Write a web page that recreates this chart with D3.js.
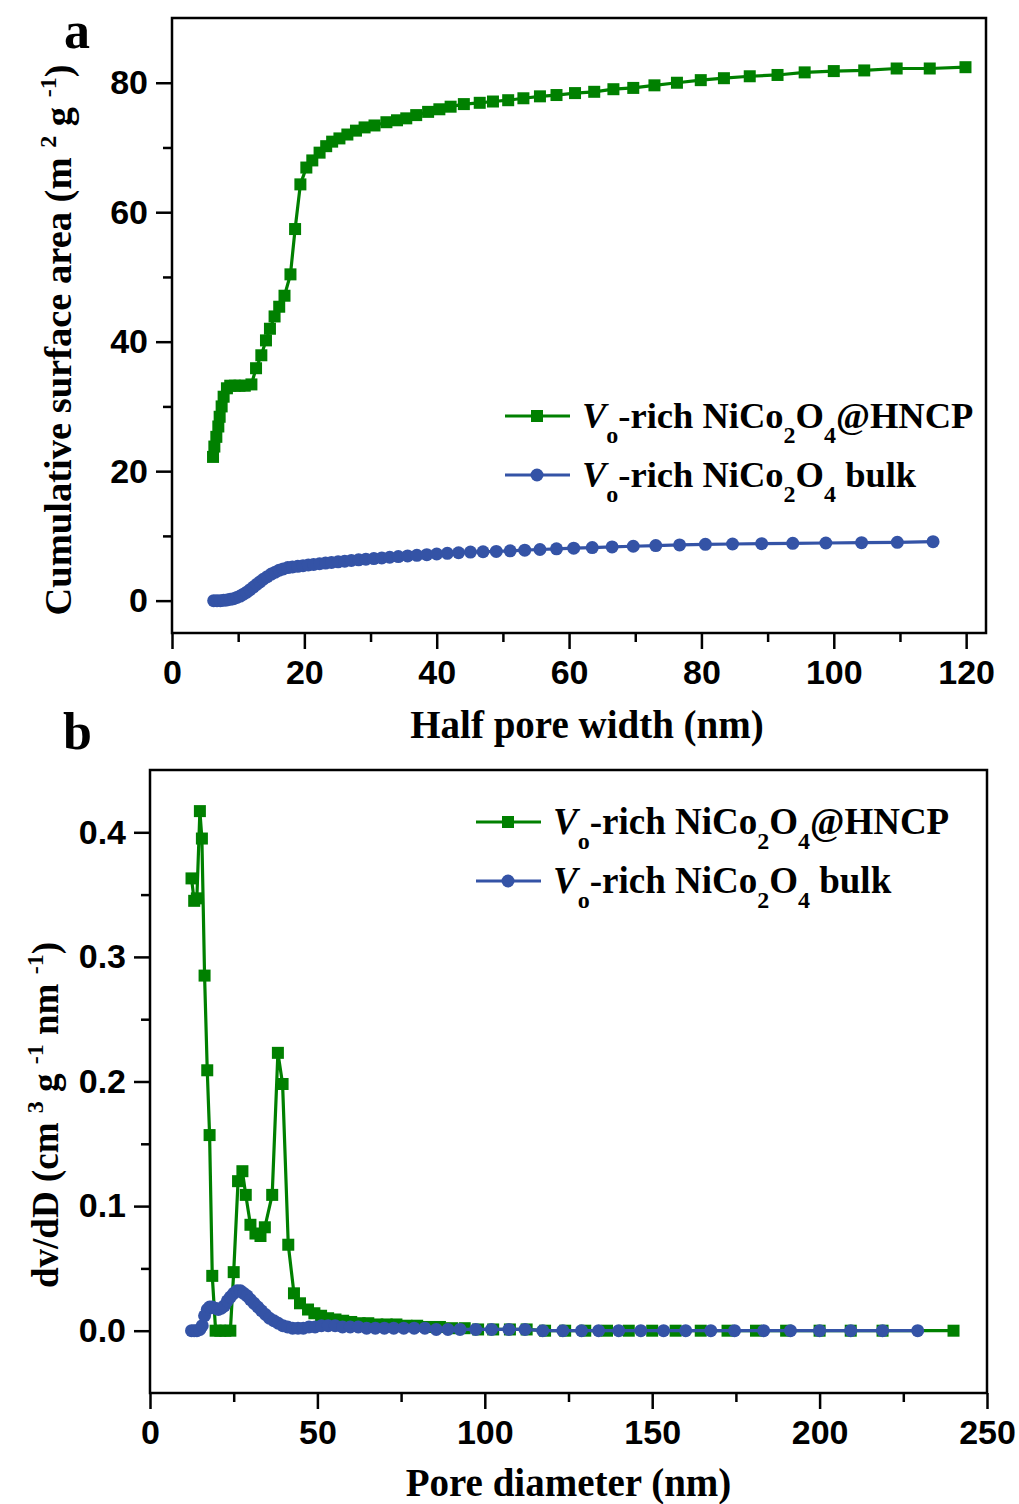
<!DOCTYPE html>
<html>
<head>
<meta charset="utf-8">
<script src="https://cdn.jsdelivr.net/npm/d3@7"></script>
<style>
  body { margin: 0; background: #fff; }
  svg { display: block; }
</style>
</head>
<body>
<svg id="chart" width="1019" height="1504"></svg>
<script>
// ---- data (a): cumulative surface area vs half pore width
const aHncpX = [6.2, 6.4, 6.7, 7.0, 7.2, 7.5, 7.8, 8.3, 8.8, 9.5, 10.2, 11.0, 12.0, 12.7, 13.5, 14.2, 14.8, 15.5, 16.2, 17.0, 17.9, 18.6, 19.4, 20.3, 21.2, 22.3, 23.3, 24.2, 25.3, 26.5, 27.8, 29.1, 30.6, 32.4, 34.0, 35.4, 36.9, 38.7, 40.4, 42.1, 44.1, 46.5, 48.5, 50.8, 53.1, 55.6, 58.1, 60.9, 63.8, 66.7, 69.7, 72.9, 76.3, 79.9, 83.4, 87.3, 91.5, 95.6, 100.0, 104.6, 109.5, 114.5, 119.9];
const aHncpY = [22.2, 23.8, 25.3, 26.9, 28.4, 30.0, 31.5, 32.8, 33.2, 33.2, 33.2, 33.2, 33.4, 35.9, 37.9, 40.2, 42.0, 43.9, 45.4, 47.1, 50.4, 57.4, 64.3, 66.9, 68.0, 69.2, 70.2, 70.9, 71.4, 72.0, 72.6, 73.1, 73.4, 73.9, 74.2, 74.5, 75.0, 75.5, 75.9, 76.3, 76.7, 76.9, 77.1, 77.3, 77.6, 77.9, 78.1, 78.4, 78.6, 79.0, 79.2, 79.6, 80.0, 80.4, 80.7, 81.0, 81.2, 81.6, 81.8, 81.9, 82.2, 82.2, 82.4];
const aBulkX = [6.3, 6.8, 7.3, 7.8, 8.3, 8.8, 9.3, 9.8, 10.3, 10.8, 11.3, 11.8, 12.3, 12.8, 13.3, 13.8, 14.4, 15.0, 15.6, 16.2, 16.8, 17.5, 18.2, 19.0, 19.8, 20.6, 21.4, 22.3, 23.2, 24.1, 25.1, 26.1, 27.1, 28.2, 29.3, 30.5, 31.7, 32.9, 34.2, 35.6, 37.0, 38.5, 40.0, 41.6, 43.3, 45.1, 47.0, 49.0, 51.1, 53.3, 55.6, 58.1, 60.7, 63.5, 66.5, 69.7, 73.1, 76.7, 80.6, 84.7, 89.1, 93.8, 98.8, 104.2, 109.6, 115.0];
const aBulkY = [0.0, 0.0, 0.0, 0.05, 0.1, 0.2, 0.3, 0.5, 0.7, 1.0, 1.3, 1.7, 2.1, 2.5, 2.9, 3.3, 3.7, 4.1, 4.4, 4.7, 4.9, 5.1, 5.2, 5.3, 5.4, 5.5, 5.6, 5.7, 5.8, 5.9, 6.0, 6.1, 6.2, 6.3, 6.4, 6.5, 6.6, 6.7, 6.8, 6.9, 7.0, 7.1, 7.2, 7.3, 7.4, 7.5, 7.55, 7.6, 7.7, 7.8, 7.9, 8.0, 8.1, 8.2, 8.3, 8.4, 8.5, 8.6, 8.7, 8.75, 8.8, 8.85, 8.9, 8.95, 9.0, 9.1];

// ---- data (b): pore size distribution
const bHncpX = [12.4, 13.2, 14.0, 14.9, 15.5, 16.3, 17.1, 17.8, 18.6, 19.6, 21.0, 22.5, 24.0, 25.0, 26.3, 27.6, 28.6, 30.0, 31.5, 33.0, 34.3, 36.5, 38.2, 39.6, 41.3, 43.0, 44.8, 47.2, 49.1, 51.1, 53.2, 55.4, 57.7, 60.1, 62.6, 65.2, 67.9, 70.7, 73.6, 76.6, 79.8, 83.1, 86.6, 90.2, 94.0, 98.0, 102.5, 107.5, 112.5, 118.0, 124.0, 130.0, 136.5, 143.0, 150.0, 157.0, 164.5, 172.5, 181.0, 190.0, 200.0, 209.3, 218.8, 240.0];
const bHncpY = [0.363, 0.345, 0.347, 0.417, 0.395, 0.285, 0.209, 0.157, 0.044, 0.0, 0.0, 0.0, 0.0, 0.047, 0.120, 0.128, 0.109, 0.085, 0.078, 0.076, 0.083, 0.109, 0.223, 0.198, 0.069, 0.030, 0.022, 0.017, 0.014, 0.012, 0.010, 0.009, 0.008, 0.007, 0.006, 0.006, 0.005, 0.005, 0.005, 0.004, 0.004, 0.003, 0.003, 0.002, 0.002, 0.001, 0.001, 0.001, 0.001, 0.0, 0.0, 0.0, 0.0, 0.0, 0.0, 0.0, 0.0, 0.0, 0.0, 0.0, 0.0, 0.0, 0.0, 0.0];
const bBulkX = [12.4, 13.2, 14.0, 14.9, 15.6, 16.3, 17.1, 17.8, 18.6, 19.5, 20.4, 21.3, 22.2, 23.1, 24.0, 25.0, 26.0, 27.0, 28.0, 29.0, 30.0, 31.1, 32.2, 33.3, 34.5, 35.7, 37.0, 38.3, 39.7, 41.1, 42.6, 44.2, 45.8, 47.5, 49.3, 51.2, 53.2, 55.3, 57.5, 59.8, 62.2, 64.7, 67.3, 70.0, 72.8, 75.8, 78.9, 82.1, 85.5, 89.0, 92.6, 97.3, 102.0, 107.2, 112.0, 117.3, 123.3, 128.9, 134.0, 140.0, 146.6, 153.4, 160.0, 167.5, 174.6, 183.3, 191.3, 200.0, 209.3, 218.8, 229.3];
const bBulkY = [0.0, 0.0, 0.0, 0.001, 0.004, 0.012, 0.017, 0.019, 0.019, 0.018, 0.017, 0.018, 0.020, 0.024, 0.027, 0.030, 0.032, 0.032, 0.030, 0.028, 0.025, 0.022, 0.019, 0.016, 0.013, 0.010, 0.008, 0.006, 0.004, 0.003, 0.002, 0.002, 0.002, 0.003, 0.003, 0.004, 0.004, 0.004, 0.003, 0.003, 0.003, 0.002, 0.002, 0.002, 0.002, 0.002, 0.002, 0.002, 0.001, 0.001, 0.001, 0.001, 0.001, 0.001, 0.001, 0.0, 0.0, 0.0, 0.0, 0.0, 0.0, 0.0, 0.0, 0.0, 0.0, 0.0, 0.0, 0.0, 0.0, 0.0, 0.0];

const aXTicks = [0, 20, 40, 60, 80, 100, 120];
const aYTicks = [0, 20, 40, 60, 80];
const bXTicks = [0, 50, 100, 150, 200, 250];
const bYTicks = [0.0, 0.1, 0.2, 0.3, 0.4];

const green = "#008000";
const blue = "#3453a6";
const serif = "'Liberation Serif', 'Times New Roman', serif";
const svg = d3.select("#chart");

function drawPanel(p) {
  const x = d3.scaleLinear().domain(p.xDom).range([p.left, p.right]);
  const y = d3.scaleLinear().domain(p.yDom).range([p.bottom, p.top]);

  const g = svg.append("g");

  // minor ticks
  g.append("g")
    .attr("transform", "translate(0," + p.bottom + ")")
    .call(d3.axisBottom(x).tickValues(p.xMinor).tickSize(9).tickFormat(""));
  g.append("g")
    .attr("transform", "translate(" + p.left + ",0)")
    .call(d3.axisLeft(y).tickValues(p.yMinor).tickSize(9).tickFormat(""));

  // major ticks
  g.append("g")
    .attr("transform", "translate(0," + p.bottom + ")")
    .call(d3.axisBottom(x).tickValues(p.xTicks).tickSize(16).tickPadding(11).tickFormat(p.xFmt));
  g.append("g")
    .attr("transform", "translate(" + p.left + ",0)")
    .call(d3.axisLeft(y).tickValues(p.yTicks).tickSize(16).tickPadding(8).tickFormat(p.yFmt));

  g.selectAll(".domain").remove();
  g.selectAll(".tick line").attr("stroke", "#000").attr("stroke-width", 2.5);
  g.selectAll(".tick text")
    .attr("fill", "#000")
    .style("font-family", "'Liberation Sans', Arial, sans-serif")
    .style("font-weight", "bold")
    .style("font-size", "34px");

  // frame
  g.append("rect")
    .attr("x", p.left).attr("y", p.top)
    .attr("width", p.right - p.left).attr("height", p.bottom - p.top)
    .attr("fill", "none").attr("stroke", "#000").attr("stroke-width", 2.5);

  const line = d3.line().x(d => x(d[0])).y(d => y(d[1]));

  p.series.forEach(s => {
    const pts = s.xs.map((v, i) => [v, s.ys[i]]);
    g.append("path").datum(pts)
      .attr("fill", "none").attr("stroke", s.color).attr("stroke-width", 3.2)
      .attr("d", line);
    if (s.shape === "square") {
      g.selectAll(null).data(pts).enter().append("rect")
        .attr("x", d => x(d[0]) - 6).attr("y", d => y(d[1]) - 6)
        .attr("width", 12).attr("height", 12)
        .attr("fill", s.color);
    } else {
      g.selectAll(null).data(pts).enter().append("circle")
        .attr("cx", d => x(d[0])).attr("cy", d => y(d[1]))
        .attr("r", 6.5).attr("fill", s.color);
    }
  });

  // legend
  p.series.forEach((s, i) => {
    const ly = p.legY + i * 59;
    g.append("line")
      .attr("x1", p.legX).attr("x2", p.legX + 65)
      .attr("y1", ly).attr("y2", ly)
      .attr("stroke", s.color).attr("stroke-width", 3.2);
    if (s.shape === "square") {
      g.append("rect").attr("x", p.legX + 32 - 6).attr("y", ly - 6)
        .attr("width", 12).attr("height", 12).attr("fill", s.color);
    } else {
      g.append("circle").attr("cx", p.legX + 32).attr("cy", ly).attr("r", 6.5).attr("fill", s.color);
    }
    const t = g.append("text")
      .attr("x", p.legX + 77).attr("y", ly + 12)
      .style("font-family", serif)
      .style("font-weight", "bold")
      .style("font-size", p.legSize + "px");
    t.append("tspan").style("font-style", "italic").text("V");
    t.append("tspan").attr("dy", 15).style("font-size", "24px").text("o");
    t.append("tspan").attr("dy", -15).text("-rich NiCo");
    t.append("tspan").attr("dy", 15).style("font-size", "24px").text("2");
    t.append("tspan").attr("dy", -15).text("O");
    t.append("tspan").attr("dy", 15).style("font-size", "24px").text("4");
    t.append("tspan").attr("dy", -15).text(s.tail);
  });

  // axis titles
  g.append("text")
    .attr("x", (p.left + p.right) / 2 + p.xTitleShift).attr("y", p.xTitleY)
    .attr("text-anchor", "middle")
    .style("font-family", serif)
    .style("font-weight", "bold")
    .style("font-size", "39px")
    .text(p.xTitle);

  const yt = g.append("text")
    .attr("transform", "translate(" + p.yTitleX + "," + p.yTitleY + ") rotate(-90)")
    .attr("text-anchor", "middle")
    .style("font-family", serif)
    .style("font-weight", "bold")
    .style("font-size", p.yTitleSize + "px");
  p.yTitleParts.forEach(part => {
    const ts = yt.append("tspan").text(part[0]);
    if (part[1] === "sup") ts.attr("dy", -15).style("font-size", "24px");
    if (part[1] === "back") ts.attr("dy", 15);
  });

  // panel letter
  g.append("text")
    .attr("x", p.letterX).attr("y", p.letterY)
    .style("font-family", serif)
    .style("font-weight", "bold")
    .style("font-size", "52px")
    .text(p.letter);
}

drawPanel({
  left: 172, right: 986, top: 18, bottom: 633,
  xDom: [0, 123], yDom: [-5, 90],
  xTicks: aXTicks, yTicks: aYTicks,
  xMinor: [10, 30, 50, 70, 90, 110], yMinor: [10, 30, 50, 70],
  xFmt: d3.format("d"), yFmt: d3.format("d"),
  series: [
    { xs: aHncpX, ys: aHncpY, color: green, shape: "square", tail: "@HNCP" },
    { xs: aBulkX, ys: aBulkY, color: blue, shape: "circle", tail: " bulk" }
  ],
  legX: 505, legY: 416, legSize: 36.5,
  xTitle: "Half pore width (nm)", xTitleY: 738, xTitleShift: 8,
  yTitleX: 71, yTitleY: 340, yTitleSize: 38.5,
  yTitleParts: [["Cumulative surface area (m "], ["2", "sup"], [" g ", "back"], ["-1", "sup"], [")", "back"]],
  letter: "a", letterX: 64, letterY: 48
});

drawPanel({
  left: 150, right: 987, top: 770, bottom: 1393,
  xDom: [0, 250], yDom: [-0.05, 0.45],
  xTicks: bXTicks, yTicks: bYTicks,
  xMinor: [25, 75, 125, 175, 225], yMinor: [0.05, 0.15, 0.25, 0.35],
  xFmt: d3.format("d"), yFmt: d3.format(".1f"),
  series: [
    { xs: bHncpX, ys: bHncpY, color: green, shape: "square", tail: "@HNCP" },
    { xs: bBulkX, ys: bBulkY, color: blue, shape: "circle", tail: " bulk" }
  ],
  legX: 476, legY: 822, legSize: 37,
  xTitle: "Pore diameter (nm)", xTitleY: 1496, xTitleShift: 0,
  yTitleX: 58, yTitleY: 1115, yTitleSize: 37,
  yTitleParts: [["dv/dD (cm "], ["3", "sup"], [" g ", "back"], ["-1", "sup"], [" nm ", "back"], ["-1", "sup"], [")", "back"]],
  letter: "b", letterX: 63, letterY: 749
});
</script>
</body>
</html>
